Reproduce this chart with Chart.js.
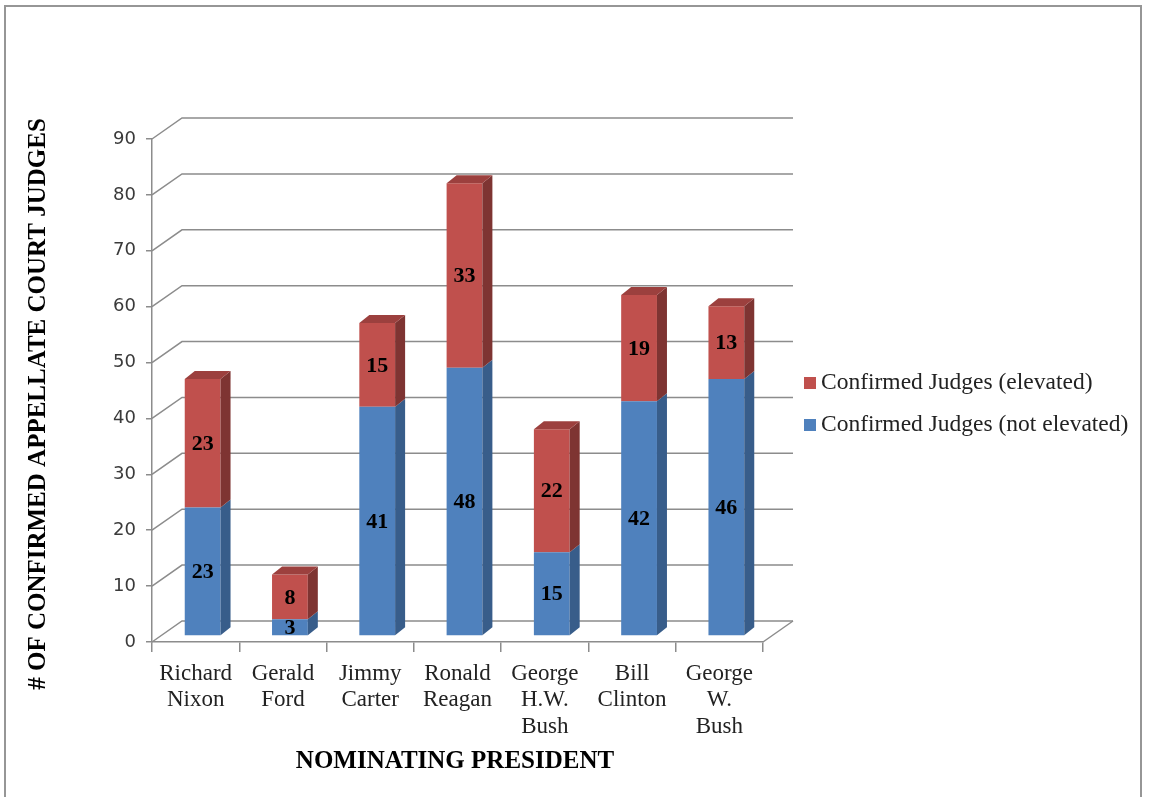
<!DOCTYPE html>
<html>
<head>
<meta charset="utf-8">
<script src="https://cdn.jsdelivr.net/npm/chart.js@4.4.1/dist/chart.umd.min.js"></script>
<style>
    html, body { margin: 0; padding: 0; background: #fff; }
    #frame {
        position: absolute; left: 4px; top: 5px; width: 1138px; height: 820px;
        border: 2px solid #969696; box-sizing: border-box;
    }
    #chart { position: absolute; left: 0; top: 0; }
</style>
</head>
<body>
<div id="frame"></div>
<canvas id="chart" width="1151" height="797"></canvas>
<script>
// Confirmed appellate court judges by nominating president
const presidents = [
    ['Richard', 'Nixon'],
    ['Gerald', 'Ford'],
    ['Jimmy', 'Carter'],
    ['Ronald', 'Reagan'],
    ['George', 'H.W.', 'Bush'],
    ['Bill', 'Clinton'],
    ['George', 'W.', 'Bush'],
];
const notElevated = [23, 3, 41, 48, 15, 42, 46];
const elevated = [23, 8, 15, 33, 22, 19, 13];
const yTicks = [0, 10, 20, 30, 40, 50, 60, 70, 80, 90];

const seriesNames = ['Confirmed Judges (not elevated)', 'Confirmed Judges (elevated)'];

const GRID = '#8c8c8c';
const WALL = { dx: 30, dy: 21 };      // back wall offset
const SHIFT = { dx: 7, dy: -6 };      // bar plane offset from front plane
const BAR = { dx: 10, dy: 8 };        // bar depth
const faces = [
    { front: '#4F81BD', side: '#385D8A', top: '#41699B' },
    { front: '#C0504D', side: '#7E3432', top: '#9C403E' },
];

const box3d = {
    id: 'box3d',
    beforeDatasetsDraw(chart) {
        const { ctx, chartArea, scales } = chart;
        const left = chartArea.left, right = chartArea.right;
        ctx.save();
        ctx.strokeStyle = GRID;
        ctx.lineWidth = 1.5;
        yTicks.forEach(v => {
            const y = scales.y.getPixelForValue(v);
            ctx.beginPath();
            ctx.moveTo(left, y);
            ctx.lineTo(left + WALL.dx, y - WALL.dy);
            ctx.lineTo(right + WALL.dx, y - WALL.dy);
            ctx.stroke();
        });
        // floor right edge
        const y0 = scales.y.getPixelForValue(0);
        ctx.beginPath();
        ctx.moveTo(right, y0);
        ctx.lineTo(right + WALL.dx, y0 - WALL.dy);
        ctx.stroke();
        ctx.restore();

        ctx.save();
        ctx.translate(SHIFT.dx, SHIFT.dy);
    },
    afterDatasetsDraw(chart) {
        const { ctx } = chart;
        const metas = [chart.getDatasetMeta(0), chart.getDatasetMeta(1)];
        metas.forEach((meta, di) => {
            meta.data.forEach(bar => {
                const { x, y, base, width } = bar.getProps(['x', 'y', 'base', 'width'], true);
                const x2 = x + width / 2, x1 = x - width / 2;
                ctx.fillStyle = faces[di].side;
                ctx.beginPath();
                ctx.moveTo(x2, y);
                ctx.lineTo(x2 + BAR.dx, y - BAR.dy);
                ctx.lineTo(x2 + BAR.dx, base - BAR.dy);
                ctx.lineTo(x2, base);
                ctx.closePath();
                ctx.fill();
                if (di === metas.length - 1) {
                    ctx.fillStyle = faces[di].top;
                    ctx.beginPath();
                    ctx.moveTo(x1, y);
                    ctx.lineTo(x1 + BAR.dx, y - BAR.dy);
                    ctx.lineTo(x2 + BAR.dx, y - BAR.dy);
                    ctx.lineTo(x2, y);
                    ctx.closePath();
                    ctx.fill();
                }
            });
        });

        // value labels
        ctx.fillStyle = '#000';
        ctx.font = 'bold 22px "Liberation Serif"';
        ctx.textAlign = 'center';
        ctx.textBaseline = 'middle';
        metas.forEach((meta, di) => {
            const values = chart.data.datasets[di].data;
            meta.data.forEach((bar, i) => {
                const { x, y, base } = bar.getProps(['x', 'y', 'base'], true);
                ctx.fillText(String(values[i]), x, (y + base) / 2 + 1);
            });
        });
        ctx.restore();
    },
    afterDraw(chart) {
        const { ctx } = chart;
        ctx.save();
        // axis titles
        ctx.fillStyle = '#000';
        ctx.font = 'bold 25px "Liberation Serif"';
        ctx.textAlign = 'center';
        ctx.textBaseline = 'middle';
        ctx.fillText('NOMINATING PRESIDENT', 455, 762);
        ctx.translate(39, 404);
        ctx.rotate(-Math.PI / 2);
        ctx.fillText('# OF CONFIRMED APPELLATE COURT JUDGES', 0, 0);
        ctx.restore();

        // legend (elevated listed first)
        ctx.save();
        ctx.font = '23.5px "Liberation Serif"';
        ctx.textBaseline = 'middle';
        ctx.textAlign = 'left';
        [[1, 383], [0, 425]].forEach(([di, cy]) => {
            ctx.fillStyle = faces[di].front;
            ctx.fillRect(804, cy - 6, 12, 12);
            ctx.fillStyle = '#222';
            ctx.fillText(seriesNames[di], 821, cy);
        });
        ctx.restore();
    },
};

new Chart(document.getElementById('chart'), {
    type: 'bar',
    data: {
        labels: presidents,
        datasets: [
            { label: seriesNames[0], data: notElevated, backgroundColor: faces[0].front },
            { label: seriesNames[1], data: elevated, backgroundColor: faces[1].front },
        ],
    },
    options: {
        responsive: false,
        animation: false,
        devicePixelRatio: 1,
        layout: { padding: { left: 0, top: 139, right: 388, bottom: 0 } },
        plugins: { legend: { display: false }, tooltip: { enabled: false } },
        datasets: { bar: { categoryPercentage: 1, barPercentage: 0.41, borderWidth: 0, clip: false } },
        scales: {
            x: {
                stacked: true,
                afterFit: s => { s.height = 155; },
                grid: { drawOnChartArea: false, tickLength: 10, color: GRID, lineWidth: 1.5 },
                border: { color: GRID, width: 1.5 },
                ticks: {
                    autoSkip: false, maxRotation: 0, minRotation: 0, padding: 8,
                    color: '#222',
                    font: { family: '"Liberation Serif"', size: 23, lineHeight: 1.17 },
                },
            },
            y: {
                stacked: true,
                min: 0,
                max: 90,
                afterFit: s => { s.width = 152; },
                afterBuildTicks: s => { s.ticks = yTicks.map(v => ({ value: v })); },
                grid: { drawOnChartArea: false, tickLength: 6, color: GRID, lineWidth: 1.5 },
                border: { color: GRID, width: 1.5 },
                ticks: {
                    padding: 10, color: '#3a3a3a',
                    font: { family: '"DejaVu Sans"', size: 18 },
                },
            },
        },
    },
    plugins: [box3d],
});
</script>
</body>
</html>
